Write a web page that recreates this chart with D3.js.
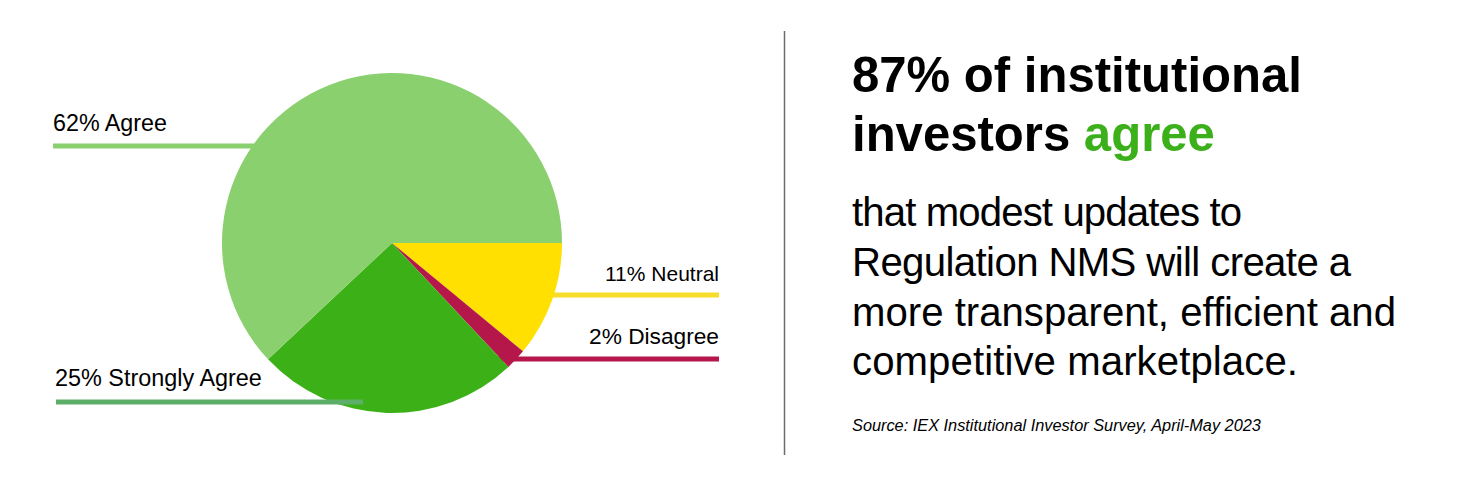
<!DOCTYPE html>
<html>
<head>
<meta charset="utf-8">
<script src="https://cdn.jsdelivr.net/npm/d3@7"></script>
<style>
  html, body { margin: 0; padding: 0; background: #ffffff; }
  svg { display: block; }
  text { font-family: "Liberation Sans", Arial, sans-serif; fill: #000; }
</style>
</head>
<body>
<svg id="chart" width="1464" height="488"></svg>
<script>
// ---- data ----
const categories = ["Neutral", "Disagree", "Strongly Agree", "Agree"];
const values = [11, 2, 25, 62];
const labels = ["11% Neutral", "2% Disagree", "25% Strongly Agree", "62% Agree"];
const sliceColors = ["#ffe000", "#b5174b", "#3cb017", "#8bd06f"];
const lineColors = ["#f7dc2a", "#b5174b", "#5cae69", "#8bd06f"];

const titleLines = ["87% of institutional", "investors "];
const titleHighlight = "agree";
const bodyLines = [
  "that modest updates to",
  "Regulation NMS will create a",
  "more transparent, efficient and",
  "competitive marketplace."
];
const sourceText = "Source: IEX Institutional Investor Survey, April-May 2023";

// ---- layout ----
const svg = d3.select("#chart");
const cx = 392, cy = 243, R = 170;

const labelLayout = {
  "Neutral":        { anchor: "end",   lineY: 295, x0: cx, x1: 719, textX: 719, textY: 281, w: 114, front: false },
  "Disagree":       { anchor: "end",   lineY: 359, x0: cx, x1: 719, textX: 719, textY: 344, w: 130, front: false },
  "Strongly Agree": { anchor: "start", lineY: 402, x0: 56, x1: 363, textX: 55,  textY: 386, w: 207, front: true },
  "Agree":          { anchor: "start", lineY: 146, x0: 53, x1: cx, textX: 53,  textY: 131, w: 114, front: false }
};

function fitText(sel, targetW) {
  const node = sel.node();
  const fs = parseFloat(sel.attr("font-size"));
  const w = node.getComputedTextLength();
  if (w > 0) sel.attr("font-size", (fs * targetW / w).toFixed(2));
  return sel;
}

const data = categories.map((c, i) => ({ cat: c, value: values[i], label: labels[i], color: sliceColors[i], lineColor: lineColors[i] }));

const pie = d3.pie().value(d => d.value).sort(null)
  .startAngle(Math.PI / 2).endAngle(Math.PI / 2 + 2 * Math.PI);
const arc = d3.arc().innerRadius(0).outerRadius(R);

const back = svg.append("g");
const pieG = svg.append("g").attr("transform", `translate(${cx},${cy})`);
const front = svg.append("g");

data.forEach(d => {
  const L = labelLayout[d.cat];
  (L.front ? front : back).append("line")
    .attr("x1", L.x0).attr("x2", L.x1)
    .attr("y1", L.lineY).attr("y2", L.lineY)
    .attr("stroke", d.lineColor).attr("stroke-width", 5);
});

pieG.selectAll("path").data(pie(data)).join("path")
  .attr("d", arc)
  .attr("fill", d => d.data.color);

data.forEach(d => {
  const L = labelLayout[d.cat];
  const t = svg.append("text")
    .attr("x", L.textX).attr("y", L.textY)
    .attr("text-anchor", L.anchor)
    .attr("font-size", 21)
    .attr("font-weight", 400)
    .text(d.label);
  fitText(t, L.w);
});

// divider
svg.append("line").attr("x1", 784.5).attr("x2", 784.5).attr("y1", 31).attr("y2", 455)
  .attr("stroke", "#6b6b6b").attr("stroke-width", 1.5);

// title
const tx = 852;
const t1 = svg.append("text").attr("x", tx).attr("y", 92)
  .attr("font-size", 40).attr("font-weight", 700).text(titleLines[0]);
fitText(t1, 450);
const fsTitle = parseFloat(t1.attr("font-size"));
const t2 = svg.append("text").attr("x", tx).attr("y", 151)
  .attr("font-size", fsTitle).attr("font-weight", 700);
t2.append("tspan").text(titleLines[1]);
t2.append("tspan").attr("fill", "#3cb01a").style("fill", "#3cb01a").text(titleHighlight);

// body
const bodyW = [390, 499, 544, 446];
const bodyY = [226, 276, 326, 375];
const probe = svg.append("text").attr("x", tx).attr("y", bodyY[2]).attr("font-size", 34).text(bodyLines[2]);
fitText(probe, bodyW[2]);
const fsBody = parseFloat(probe.attr("font-size"));
probe.remove();
bodyLines.forEach((s, i) => {
  svg.append("text").attr("x", tx).attr("y", bodyY[i])
    .attr("font-size", fsBody).attr("font-weight", 400)
    .attr("textLength", bodyW[i]).attr("lengthAdjust", "spacing")
    .text(s);
});

// source
const src = svg.append("text").attr("x", tx).attr("y", 431)
  .attr("font-size", 14).attr("font-style", "italic").text(sourceText);
fitText(src, 409);
</script>
</body>
</html>
